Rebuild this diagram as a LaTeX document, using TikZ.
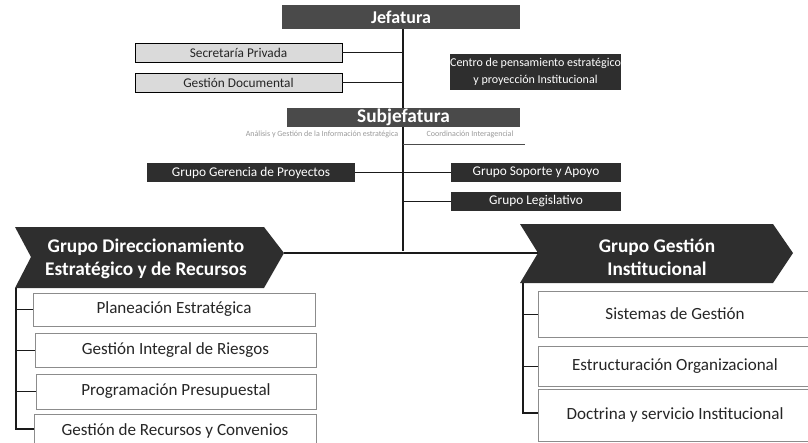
\documentclass[tikz,border=0pt]{standalone}
\usepackage{fontspec}
\setmainfont{Carlito}
\definecolor{darkbox}{HTML}{2E2E2E}
\definecolor{jefbox}{HTML}{4A4A4A}
\definecolor{lightbox}{HTML}{DADADA}
\definecolor{conn}{HTML}{1A1A1A}
\tikzset{
  darkfill/.style={inner sep=0pt, fill=darkbox, text=white, font=\fontsize{10}{12}\selectfont},
  headbox/.style={inner sep=0pt, fill=jefbox, text=white, font=\bfseries\fontsize{13.5}{15}\selectfont},
  lightfill/.style={inner sep=0pt, fill=lightbox, draw=black, line width=0.6pt, text=black!85, font=\fontsize{10}{12}\selectfont},
  subbox/.style={inner sep=0pt, fill=white, draw=black!45, line width=0.5pt, text=black!85, font=\fontsize{12.8}{14}\selectfont},
  chev/.style={fill=darkbox},
  chevtext/.style={text=white, font=\bfseries\fontsize{14.5}{17}\selectfont, align=center},
  faint/.style={text=black!40, font=\fontsize{6}{7}\selectfont},
  conline/.style={draw=conn, line width=1pt},
  thinline/.style={draw=conn, line width=0.7pt}
}
% box from pixel corners: style, name, x1, y1, x2, y2, text
\newcommand\pxbox[7]{\node[#1, minimum width={(#5-#3)*0.75pt}, minimum height={(#6-#4)*0.75pt}, anchor=center] (#2) at ({(#3+#5)/2},{(#4+#6)/2}) {#7};}
\begin{document}
\begin{tikzpicture}[x=0.75pt,y=-0.75pt]
\useasboundingbox (0,0) rectangle (808,443);
% main spine (drawn first, behind boxes)
\coordinate (spinetop) at (403,29);
\coordinate (spinebot) at (403,251);
\draw[conline] (spinetop) -- (spinebot);
% top level
\pxbox{headbox}{jef}{282}{5}{520}{29}{Jefatura}
\pxbox{lightfill}{sec}{135}{43}{342}{62}{Secretaría Privada}
\pxbox{lightfill}{gdoc}{135}{73}{342}{92}{Gestión Documental}
\pxbox{darkfill, align=center, font=\fontsize{9}{13}\selectfont}{cen}{451}{54}{620}{90}{Centro de pensamiento estratégico\\ y proyección Institucional}
\coordinate (j1) at (403,53);
\coordinate (j2) at (403,83);
\draw[thinline] (sec.east) -- (sec.east -| j1);
\draw[thinline] (gdoc.east) -- (gdoc.east -| j2);
% subjefatura
\pxbox{headbox, font=\bfseries\fontsize{14.5}{16}\selectfont}{sub}{287}{108}{520}{127}{Subjefatura}
\node[faint, anchor=center] (subl) at (322,134) {Análisis y Gestión de la Información estratégica};
\node[faint, anchor=center] (subr) at (470,134) {Coordinación Interagencial};
\coordinate (s1) at (403,144);
\coordinate (s2) at (525,144);
\draw[thinline, draw=black!70] (s1) -- (s2);
% groups
\pxbox{darkfill}{ger}{147}{163}{355}{182}{Grupo Gerencia de Proyectos}
\pxbox{darkfill}{sop}{451}{163}{621}{182}{Grupo Soporte y Apoyo}
\pxbox{darkfill}{leg}{451}{192}{621}{211}{Grupo Legislativo}
\coordinate (g1) at (403,173);
\coordinate (g2) at (403,201);
\draw[thinline] (ger.east) -- (ger.east -| g1);
\draw[thinline] (sop.west) -- (sop.west -| g1);
\draw[thinline] (leg.west) -- (leg.west -| g2);
% left chevron
\coordinate (ltl) at (15,227);
\coordinate (lnotch) at (31,257);
\coordinate (lbl) at (15,288);
\coordinate (lsh) at (264,227);
\coordinate (ltip) at (284,253);
\coordinate (lsb) at (264,288);
\fill[chev] (ltl) -- (lsh) -- (ltip) -- (lsb) -- (lbl) -- (lnotch) -- cycle;
\node[chevtext] (gdir) at (146,259) {Grupo Direccionamiento\\Estratégico y de Recursos};
% right chevron
\coordinate (rtl) at (520,224);
\coordinate (rnotch) at (538,253);
\coordinate (rbl) at (520,283);
\coordinate (rsh) at (773,224);
\coordinate (rtip) at (793,253);
\coordinate (rsb) at (773,283);
\fill[chev] (rtl) -- (rsh) -- (rtip) -- (rsb) -- (rbl) -- (rnotch) -- cycle;
\node[chevtext] (ggi) at (657,257) {Grupo Gestión\\Institucional};
% horizontal link between chevrons
\draw[conline] (ltip) -- (rnotch);
% left sub-boxes
\pxbox{subbox}{p1}{33}{293}{315}{326}{Planeación Estratégica}
\pxbox{subbox}{p2}{35}{333}{316}{367}{Gestión Integral de Riesgos}
\pxbox{subbox}{p3}{36}{374}{316}{409}{Programación Presupuestal}
\pxbox{subbox}{p4}{34}{414}{316}{448}{Gestión de Recursos y Convenios}
\coordinate (lv0) at (16,288);
\coordinate (lv4) at (16,429);
\draw[conline] (lv0) -- (lv4) -- (p4.west |- lv4);
\draw[thinline] (p1.west) -- (p1.west -| lv0);
\draw[thinline] (p2.west) -- (p2.west -| lv0);
\draw[thinline] (p3.west) -- (p3.west -| lv0);
% right sub-boxes
\pxbox{subbox}{q1}{538}{291}{812}{337}{Sistemas de Gestión}
\pxbox{subbox}{q2}{538}{346}{812}{386}{Estructuración Organizacional}
\pxbox{subbox}{q3}{538}{389}{812}{441}{Doctrina y servicio Institucional}
\coordinate (rv0) at (523,283);
\coordinate (rv3) at (523,413);
\draw[conline] (rv0) -- (rv3) -- (q3.west |- rv3);
\draw[thinline] (q1.west) -- (q1.west -| rv0);
\draw[thinline] (q2.west) -- (q2.west -| rv0);
\end{tikzpicture}
\end{document}
